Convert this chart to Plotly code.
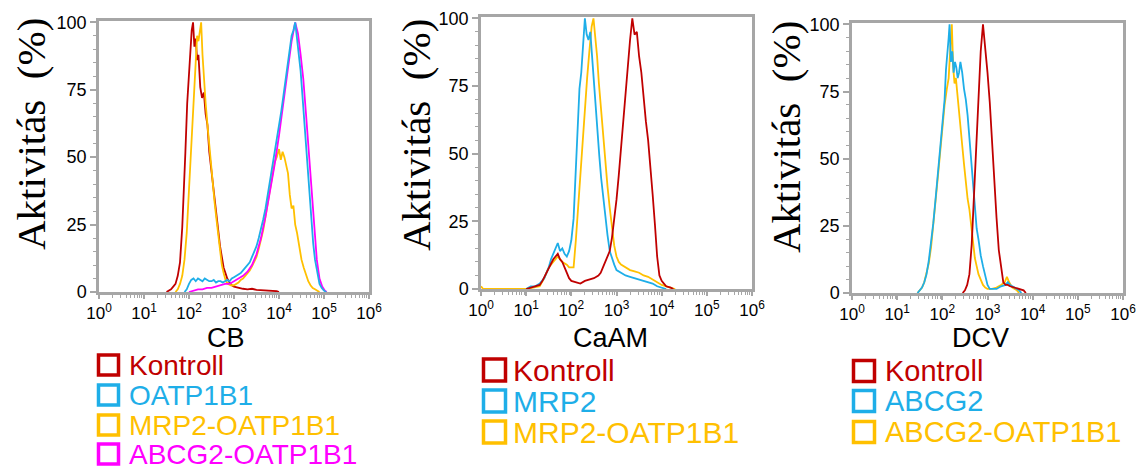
import plotly.graph_objects as go

W, H = 1140, 466

# ---------------- DATA (log10 of fluorescence, % activity) ----------------
# Panel 1: CB
cb_kontroll_log = [1.50, 1.55, 1.60, 1.65, 1.70, 1.75, 1.80, 1.85, 1.88, 1.92, 1.96, 2.00, 2.03, 2.06, 2.09, 2.12, 2.15, 2.18, 2.21, 2.25, 2.29, 2.33, 2.37, 2.41, 2.45, 2.49, 2.53, 2.57, 2.61, 2.65, 2.69, 2.73, 2.77, 2.81, 2.85, 2.90, 2.95, 3.00, 3.10, 3.20, 3.30, 3.40, 3.50, 3.60, 3.70, 3.80, 3.90, 3.95, 4.00]
cb_kontroll_val = [0, 0.5, 1, 2, 3, 6, 11, 24, 34, 52, 70, 82, 92, 97, 100, 91, 94, 86, 88, 76, 72, 74, 66, 62, 52, 46, 40, 34, 28, 22, 17, 13, 9, 7, 5, 3.5, 2.5, 2, 1.5, 1.2, 1, 1.2, 0.8, 0.7, 0.6, 0.5, 0.4, 0.3, 0]

cb_oatp_log = [1.90, 1.95, 2.00, 2.05, 2.10, 2.15, 2.20, 2.25, 2.30, 2.35, 2.40, 2.45, 2.50, 2.55, 2.60, 2.65, 2.70, 2.75, 2.80, 2.85, 2.90, 2.95, 3.00, 3.05, 3.10, 3.15, 3.20, 3.25, 3.30, 3.35, 3.40, 3.45, 3.50, 3.55, 3.60, 3.65, 3.70, 3.75, 3.80, 3.85, 3.90, 3.95, 4.00, 4.05, 4.10, 4.15, 4.20, 4.24, 4.28, 4.32, 4.36, 4.40, 4.44, 4.48, 4.52, 4.56, 4.60, 4.64, 4.68, 4.72, 4.76, 4.80, 4.85, 4.90, 4.95, 5.00, 5.05]
cb_oatp_val = [0, 1, 3, 4.5, 5, 4, 5, 4.5, 4, 5, 4.5, 4, 4, 4.5, 3.5, 4, 4, 3.5, 4, 4.5, 4, 5, 5.5, 6, 6.5, 7, 8, 9, 10, 11, 13, 15, 17, 20, 23, 27, 31, 36, 41, 46, 51, 56, 61, 67, 73, 79, 86, 90, 95, 97, 100, 94, 89, 82, 73, 64, 54, 44, 35, 26, 18, 12, 7, 3, 1.5, 0.5, 0]

cb_mrp2_log = [1.70, 1.75, 1.80, 1.85, 1.90, 1.95, 2.00, 2.05, 2.10, 2.15, 2.18, 2.21, 2.24, 2.27, 2.30, 2.33, 2.37, 2.41, 2.45, 2.49, 2.53, 2.57, 2.61, 2.65, 2.69, 2.73, 2.77, 2.82, 2.87, 2.93, 3.00, 3.05, 3.10, 3.15, 3.20, 3.25, 3.30, 3.35, 3.40, 3.45, 3.50, 3.55, 3.60, 3.65, 3.70, 3.75, 3.80, 3.85, 3.90, 3.95, 4.00, 4.04, 4.08, 4.12, 4.16, 4.20, 4.24, 4.28, 4.32, 4.36, 4.40, 4.45, 4.50, 4.55, 4.60, 4.65, 4.70, 4.75, 4.80, 4.85, 4.90]
cb_mrp2_val = [0, 1, 3, 6, 12, 22, 38, 55, 72, 88, 95, 93, 97, 100, 88, 78, 70, 62, 54, 47, 40, 33, 27, 21, 15, 10, 7, 4, 3, 2.5, 2.5, 3, 3.5, 4.5, 5, 6, 7, 8, 9.5, 11, 13, 16, 19, 23, 28, 33, 38, 43, 48, 50, 53, 49, 52, 50, 47, 44, 36, 31, 32, 25, 22, 17, 12, 9, 6, 4, 2.5, 1.5, 1, 0.5, 0]

cb_abcg2_log = [2.00, 2.10, 2.20, 2.30, 2.40, 2.50, 2.60, 2.70, 2.80, 2.90, 3.00, 3.10, 3.20, 3.30, 3.40, 3.50, 3.60, 3.70, 3.80, 3.90, 4.00, 4.10, 4.20, 4.28, 4.36, 4.42, 4.48, 4.54, 4.60, 4.66, 4.72, 4.78, 4.84, 4.90, 4.96, 5.02, 5.06]
cb_abcg2_val = [0, 0.5, 1, 1, 1.5, 1.5, 2, 2.5, 3, 3, 4, 5, 6, 7.5, 10, 14, 20, 28, 37, 47, 58, 70, 83, 93, 100, 96, 88, 79, 66, 52, 37, 23, 12, 5, 2, 0.5, 0]

# Panel 2: CaAM
caam_kontroll_log = [1.00, 1.10, 1.20, 1.30, 1.36, 1.42, 1.48, 1.54, 1.60, 1.65, 1.70, 1.75, 1.80, 1.85, 1.90, 1.95, 2.00, 2.10, 2.20, 2.30, 2.40, 2.50, 2.60, 2.65, 2.70, 2.75, 2.80, 2.85, 2.90, 2.95, 3.00, 3.05, 3.10, 3.15, 3.20, 3.25, 3.30, 3.35, 3.40, 3.45, 3.50, 3.55, 3.60, 3.65, 3.70, 3.75, 3.80, 3.85, 3.90, 3.95, 4.00, 4.05, 4.10, 4.20, 4.26]
caam_kontroll_val = [0, 0.5, 1, 1.5, 3, 5, 7, 9, 11, 12, 13, 11, 10, 8, 6, 4, 3, 2.5, 2, 3, 3.5, 4, 5, 6, 8, 10, 12, 14, 19, 25, 33, 42, 52, 62, 72, 84, 92, 100, 94, 95, 86, 80, 70, 62, 55, 46, 35, 24, 12, 5, 3, 2, 1, 0.5, 0]

caam_mrp2_log = [1.00, 1.10, 1.20, 1.30, 1.40, 1.50, 1.55, 1.60, 1.65, 1.70, 1.75, 1.80, 1.85, 1.90, 1.95, 2.00, 2.05, 2.10, 2.14, 2.18, 2.22, 2.26, 2.30, 2.34, 2.38, 2.42, 2.46, 2.50, 2.54, 2.58, 2.62, 2.66, 2.70, 2.75, 2.80, 2.85, 2.90, 2.95, 3.00, 3.10, 3.20, 3.30, 3.40, 3.50, 3.60, 3.70, 3.80, 3.90, 4.00, 4.10]
caam_mrp2_val = [0, 1, 1, 2, 4, 8, 11, 13, 15, 17, 14, 15, 13, 12, 14, 18, 26, 45, 60, 74, 80, 90, 100, 94, 92, 95, 85, 76, 67, 57, 49, 41, 35, 26, 20, 14, 11, 9, 7, 6, 5, 4.5, 4, 3.5, 3, 2.5, 2, 1, 0.5, 0]

caam_mrp2oatp_log = [0.00, 0.05, 1.00, 1.30, 1.40, 1.50, 1.60, 1.70, 1.80, 1.90, 1.95, 2.00, 2.05, 2.10, 2.15, 2.20, 2.25, 2.30, 2.35, 2.40, 2.45, 2.49, 2.53, 2.57, 2.61, 2.65, 2.70, 2.75, 2.80, 2.85, 2.90, 2.95, 3.00, 3.05, 3.10, 3.20, 3.30, 3.40, 3.50, 3.60, 3.70, 3.80, 3.90, 4.00, 4.10, 4.20, 4.30]
caam_mrp2oatp_val = [1, 0, 0, 1, 4, 8, 10, 12, 10, 9, 8, 8, 8, 18, 30, 44, 56, 68, 78, 88, 97, 100, 93, 86, 76, 68, 58, 46, 38, 30, 22, 16, 12, 10, 9, 8, 7, 6.5, 6, 5, 4.5, 3.5, 2.5, 1.5, 1, 0.5, 0]

# Panel 3: DCV
dcv_kontroll_log = [2.45, 2.50, 2.55, 2.60, 2.65, 2.70, 2.75, 2.80, 2.85, 2.90, 2.95, 3.00, 3.05, 3.10, 3.15, 3.20, 3.25, 3.30, 3.35, 3.40, 3.45, 3.50, 3.60, 3.70, 3.80, 3.85]
dcv_kontroll_val = [0, 1, 3, 7, 18, 36, 56, 74, 90, 100, 92, 82, 71, 55, 40, 28, 16, 9, 4, 3, 3, 2.5, 2, 1.5, 1, 0]

dcv_abcg2_log = [1.45, 1.50, 1.55, 1.60, 1.65, 1.70, 1.75, 1.80, 1.85, 1.90, 1.95, 2.00, 2.05, 2.08, 2.11, 2.14, 2.16, 2.19, 2.22, 2.25, 2.28, 2.31, 2.34, 2.37, 2.40, 2.44, 2.48, 2.52, 2.56, 2.60, 2.64, 2.68, 2.72, 2.76, 2.80, 2.85, 2.90, 2.95, 3.00, 3.05, 3.10, 3.20, 3.30, 3.40, 3.45, 3.50, 3.60, 3.70, 3.75]
dcv_abcg2_val = [0, 1, 2, 4, 7, 12, 18, 26, 35, 44, 55, 64, 72, 83, 88, 95, 100, 86, 90, 82, 86, 84, 80, 82, 86, 82, 76, 72, 66, 58, 48, 39, 31, 24, 20, 14, 10, 6, 3, 1.5, 1.5, 1.5, 2.5, 3, 4, 3, 2, 1, 0]

dcv_abcg2oatp_log = [1.45, 1.50, 1.55, 1.60, 1.65, 1.70, 1.75, 1.80, 1.85, 1.90, 1.95, 2.00, 2.05, 2.10, 2.14, 2.18, 2.21, 2.24, 2.27, 2.30, 2.33, 2.36, 2.40, 2.44, 2.48, 2.52, 2.56, 2.60, 2.64, 2.68, 2.72, 2.76, 2.80, 2.85, 2.90, 2.95, 3.00, 3.10, 3.20, 3.30, 3.38, 3.43, 3.48, 3.55, 3.65, 3.70]
dcv_abcg2oatp_val = [0, 1, 2, 4, 7, 11, 17, 25, 34, 43, 52, 62, 70, 76, 80, 92, 100, 84, 78, 80, 74, 70, 60, 55, 48, 40, 35, 31, 25, 18, 13, 10, 7, 5, 3, 2, 1.5, 1.5, 2, 3, 4, 6, 4, 2, 1, 0]

tick_vals = [1, 10, 100, 1000, 10000, 100000, 1000000]
tick_text = ["10<sup>0</sup>", "10<sup>1</sup>", "10<sup>2</sup>", "10<sup>3</sup>",
             "10<sup>4</sup>", "10<sup>5</sup>", "10<sup>6</sup>"]
y_ticks = [0, 25, 50, 75, 100]

panel_titles = ["CB", "CaAM", "DCV"]
y_title = "Aktivitás\u00a0 (%)"

legend1 = ["Kontroll", "OATP1B1", "MRP2-OATP1B1", "ABCG2-OATP1B1"]
legend2 = ["Kontroll", "MRP2", "MRP2-OATP1B1"]
legend3 = ["Kontroll", "ABCG2", "ABCG2-OATP1B1"]

RED = "#C00000"
BLUE = "#1EAEE8"
ORANGE = "#FFC000"
MAGENTA = "#FF00FF"
GREY = "#A6A6A6"

# ---------------- FIGURE ----------------
def px(x):
    return x / W

def py(y):
    return 1 - y / H

fig = go.Figure()

panels = [
    dict(series=[(cb_kontroll_log, cb_kontroll_val, RED),
                 (cb_mrp2_log, cb_mrp2_val, ORANGE),
                 (cb_abcg2_log, cb_abcg2_val, MAGENTA),
                 (cb_oatp_log, cb_oatp_val, BLUE)],
         names=[legend1[0], legend1[2], legend1[3], legend1[1]],
         xdom=(99, 369), ydom=(21, 292)),
    dict(series=[(caam_mrp2oatp_log, caam_mrp2oatp_val, ORANGE),
                 (caam_mrp2_log, caam_mrp2_val, BLUE),
                 (caam_kontroll_log, caam_kontroll_val, RED)],
         names=[legend2[2], legend2[1], legend2[0]],
         xdom=(481, 752), ydom=(17, 289)),
    dict(series=[(dcv_abcg2oatp_log, dcv_abcg2oatp_val, ORANGE),
                 (dcv_abcg2_log, dcv_abcg2_val, BLUE),
                 (dcv_kontroll_log, dcv_kontroll_val, RED)],
         names=[legend3[2], legend3[1], legend3[0]],
         xdom=(852, 1123), ydom=(23, 293)),
]

axis_font = dict(family="Liberation Sans, Arial", color="black")

for i, p in enumerate(panels):
    n = i + 1
    xa = "x" if n == 1 else f"x{n}"
    ya = "y" if n == 1 else f"y{n}"
    for (lx, vals, col), name in zip(p["series"], p["names"]):
        fig.add_trace(go.Scatter(
            x=[10 ** v for v in lx], y=vals, mode="lines", name=name,
            line=dict(color=col, width=1.8), xaxis=xa, yaxis=ya,
            showlegend=False, hoverinfo="skip"))
    xkey = "xaxis" if n == 1 else f"xaxis{n}"
    ykey = "yaxis" if n == 1 else f"yaxis{n}"
    fig.update_layout(**{
        xkey: dict(
            type="log", range=[0, 6], domain=[px(p["xdom"][0]), px(p["xdom"][1])],
            anchor=ya, tickvals=tick_vals, ticktext=tick_text,
            tickfont=dict(size=17, **axis_font), automargin=False,
            showline=True, mirror=True, linecolor=GREY, linewidth=2.5,
            ticks="outside", ticklen=4, tickwidth=1.5, tickcolor=GREY,
            minor=dict(ticks="outside", ticklen=3, tickwidth=1, tickcolor=GREY, dtick="D1"),
            showgrid=False, zeroline=False, fixedrange=True),
        ykey: dict(
            range=[0, 100.5], domain=[py(p["ydom"][1]), py(p["ydom"][0])],
            anchor=xa, tickvals=y_ticks, automargin=False,
            tickfont=dict(size=18, **axis_font),
            showline=True, mirror=True, linecolor=GREY, linewidth=2.5,
            ticks="outside", ticklen=6, tickwidth=1.5, tickcolor=GREY,
            minor=dict(ticks="outside", ticklen=3, tickwidth=1, tickcolor=GREY, dtick=5),
            showgrid=False, zeroline=False, fixedrange=True),
    })

annotations = []
shapes = []

# y-axis titles
for cx, cy in [(31, 134), (416, 135), (786, 137)]:
    annotations.append(dict(
        x=px(cx), y=py(cy), xref="paper", yref="paper", text=y_title,
        textangle=-90, showarrow=False, xanchor="center", yanchor="middle",
        font=dict(family="Liberation Serif, Times New Roman", size=41, color="black")))

# x-axis titles
for title, cx in zip(panel_titles, [226, 610, 980]):
    annotations.append(dict(
        x=px(cx), y=py(338), xref="paper", yref="paper", text=title,
        showarrow=False, xanchor="center", yanchor="middle", borderpad=0,
        font=dict(family="Liberation Sans, Arial", size=27, color="black")))

# legends
legend_specs = [
    (legend1, [RED, BLUE, ORANGE, MAGENTA], 97, 128, [365, 395, 425, 454], 23, 28),
    (legend2, [RED, BLUE, ORANGE], 482, 512, [370, 401, 432], 25, 30),
    (legend3, [RED, BLUE, ORANGE], 852, 884, [371, 401, 432], 24, 29),
]
for labels, cols, sx, tx, rows, size, fs in legend_specs:
    for lab, col, ry in zip(labels, cols, rows):
        shapes.append(dict(
            type="rect", xref="paper", yref="paper",
            x0=px(sx + 1.5), x1=px(sx + size - 1.5),
            y0=py(ry + size / 2 - 1.5), y1=py(ry - size / 2 + 1.5),
            line=dict(color=col, width=3.5), fillcolor="rgba(0,0,0,0)"))
        annotations.append(dict(
            x=px(tx), y=py(ry), xref="paper", yref="paper", text=lab,
            showarrow=False, xanchor="left", yanchor="middle", borderpad=0,
            font=dict(family="Liberation Sans, Arial", size=fs, color=col)))

fig.update_layout(
    width=W, height=H, margin=dict(l=0, r=0, t=0, b=0, pad=0, autoexpand=False),
    paper_bgcolor="white", plot_bgcolor="white",
    annotations=annotations, shapes=shapes, showlegend=False)

fig.write_html("out.html")
